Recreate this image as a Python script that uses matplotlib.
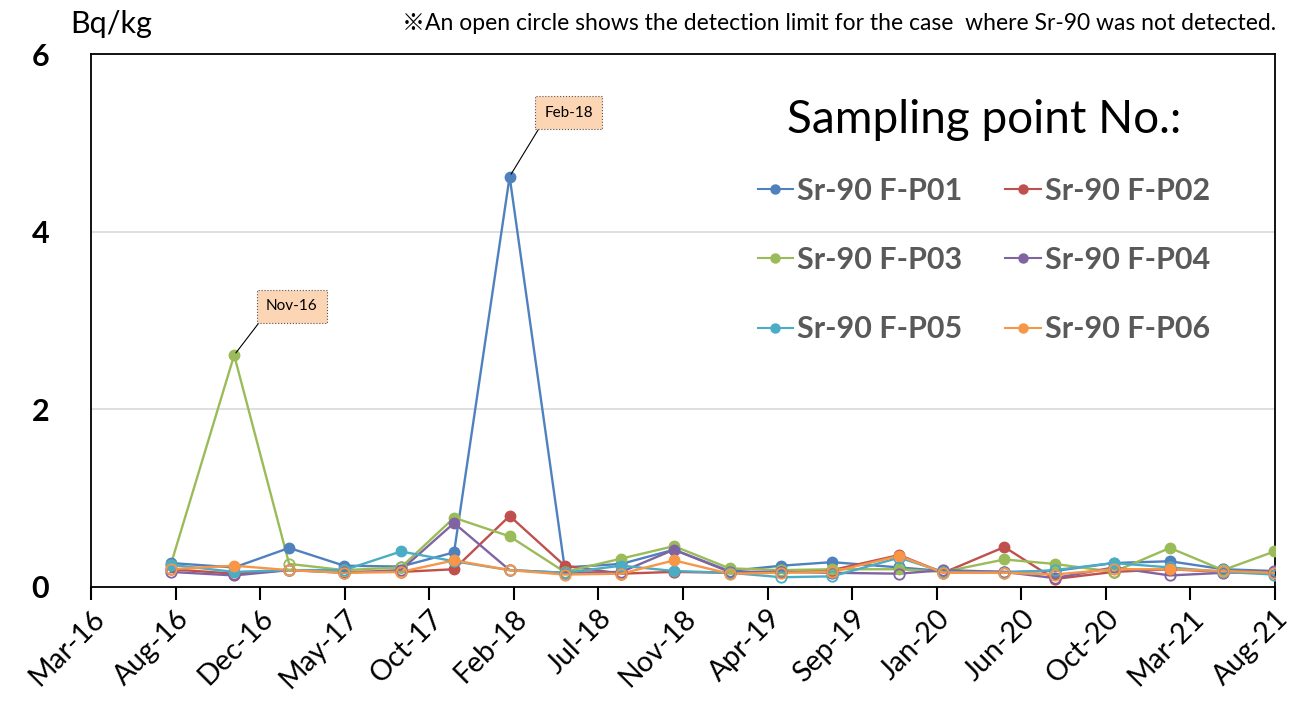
import datetime as dt
import matplotlib
matplotlib.use("Agg")
import matplotlib.pyplot as plt
import matplotlib.dates as mdates
from matplotlib.lines import Line2D

plt.rcParams["font.family"] = ["Lato", "DejaVu Sans"]

# sampling dates (quarterly)
sample_dates = [
    "2016-08-01", "2016-11-14", "2017-02-13", "2017-05-15", "2017-08-17",
    "2017-11-13", "2018-02-13", "2018-05-15", "2018-08-17", "2018-11-12",
    "2019-02-12", "2019-05-09", "2019-08-01", "2019-11-20", "2020-02-01",
    "2020-05-12", "2020-08-03", "2020-11-09", "2021-02-10", "2021-05-09",
    "2021-08-02",
]

series_names = ["Sr-90 F-P01", "Sr-90 F-P02", "Sr-90 F-P03",
                "Sr-90 F-P04", "Sr-90 F-P05", "Sr-90 F-P06"]
series_colors = ["#4F81BD", "#C0504D", "#9BBB59", "#8064A2", "#4BACC6", "#F79646"]

# Bq/kg
p01 = [0.27, 0.22, 0.44, 0.24, 0.23, 0.39, 4.62, 0.22, 0.26, 0.42, 0.18,
       0.24, 0.28, 0.22, 0.18, 0.17, 0.18, 0.27, 0.29, 0.20, 0.18]
p02 = [0.20, 0.15, 0.19, 0.17, 0.17, 0.20, 0.80, 0.24, 0.15, 0.17, 0.16,
       0.17, 0.19, 0.36, 0.16, 0.45, 0.09, 0.17, 0.20, 0.17, 0.17]
p03 = [0.25, 2.61, 0.26, 0.19, 0.22, 0.78, 0.57, 0.17, 0.32, 0.46, 0.21,
       0.19, 0.20, 0.20, 0.17, 0.31, 0.26, 0.17, 0.44, 0.19, 0.40]
p04 = [0.17, 0.13, 0.19, 0.16, 0.19, 0.72, 0.19, 0.16, 0.17, 0.42, 0.17,
       0.17, 0.16, 0.15, 0.19, 0.17, 0.10, 0.22, 0.13, 0.16, 0.17]
p05 = [0.25, 0.17, 0.19, 0.19, 0.40, 0.29, 0.19, 0.16, 0.24, 0.18, 0.16,
       0.11, 0.12, 0.33, 0.17, 0.16, 0.19, 0.27, 0.22, 0.17, 0.14]
p06 = [0.20, 0.24, 0.19, 0.16, 0.17, 0.30, 0.19, 0.14, 0.15, 0.30, 0.15,
       0.16, 0.17, 0.35, 0.16, 0.16, 0.14, 0.20, 0.20, 0.18, 0.16]

# 1 = detected, 0 = below detection limit (open circle)
det01 = [1, 1, 1, 1, 0, 1, 1, 1, 0, 1, 0, 1, 1, 0, 0, 0, 0, 1, 1, 0, 0]
det02 = [0, 0, 0, 0, 0, 1, 1, 1, 0, 0, 0, 0, 0, 1, 0, 1, 0, 0, 0, 0, 0]
det03 = [1, 1, 0, 0, 0, 1, 1, 0, 1, 1, 1, 0, 1, 1, 0, 1, 1, 0, 1, 0, 1]
det04 = [0, 0, 0, 0, 0, 1, 0, 0, 0, 1, 0, 0, 0, 0, 0, 0, 0, 0, 0, 0, 0]
det05 = [1, 1, 0, 0, 1, 0, 0, 0, 1, 1, 0, 0, 0, 0, 0, 0, 0, 1, 0, 0, 0]
det06 = [0, 1, 0, 0, 0, 1, 0, 0, 0, 1, 0, 0, 0, 1, 0, 0, 0, 0, 1, 0, 0]

series_values = [p01, p02, p03, p04, p05, p06]
series_detected = [det01, det02, det03, det04, det05, det06]

# callouts: (series index, point index, label, text offset in points)
callouts = [(2, 1, "Nov-16", (23, 30)), (0, 6, "Feb-18", (25, 41))]

axis_start = dt.date(2016, 3, 22)
tick_step = 140
n_ticks = 15

dates = [dt.datetime.strptime(d, "%Y-%m-%d").date() for d in sample_dates]

fig = plt.figure(figsize=(12.92, 7.08), dpi=100)
ax = fig.add_axes([91 / 1292, 1 - 587 / 708, 1184 / 1292, 533 / 708])

for vals, det, col in zip(series_values, series_detected, series_colors):
    ax.plot(dates, vals, color=col, linewidth=1.7, zorder=3)
    fx = [d for d, f in zip(dates, det) if f]
    fy = [v for v, f in zip(vals, det) if f]
    ox = [d for d, f in zip(dates, det) if not f]
    oy = [v for v, f in zip(vals, det) if not f]
    ax.plot(fx, fy, "o", color=col, markersize=7.5, zorder=4)
    ax.plot(ox, oy, "o", markerfacecolor="none", markeredgecolor=col,
            markeredgewidth=1.3, markersize=7.5, zorder=4)

for si, pi, txt, off in callouts:
    ax.annotate(txt, (dates[pi], series_values[si][pi]), xytext=off,
                textcoords="offset points", fontsize=11, ha="left", va="bottom",
                bbox=dict(boxstyle="square,pad=0.6", fc="#FCD5B4", ec="#555555",
                          ls=":", lw=0.8),
                arrowprops=dict(arrowstyle="-", color="black", lw=0.8,
                                relpos=(0, 0), shrinkA=0, shrinkB=2),
                zorder=6)

ax.set_ylim(0, 6)
ax.set_yticks([0, 2, 4, 6])
ax.set_yticklabels(["0", "2", "4", "6"], fontsize=22, fontweight="bold")
ax.tick_params(axis="y", length=0, pad=30)
ax.grid(axis="y", color="#D9D9D9", linewidth=1.2)
ax.set_axisbelow(True)

ticks = [axis_start + dt.timedelta(days=tick_step * i) for i in range(n_ticks)]
ax.set_xlim(ticks[0], ticks[-1])
ax.set_xticks(ticks)
ax.xaxis.set_major_formatter(mdates.DateFormatter("%b-%y"))
ax.tick_params(axis="x", direction="out", length=9, width=1.5, labelsize=20.5, pad=4)
for lbl in ax.get_xticklabels():
    lbl.set_rotation(45)
    lbl.set_ha("right")
    lbl.set_rotation_mode("anchor")

for sp in ax.spines.values():
    sp.set_color("black")
    sp.set_linewidth(1.3)

# legend filled row by row: matplotlib fills columns first, so reorder
order = [0, 2, 4, 1, 3, 5]
handles = [Line2D([], [], color=series_colors[i], marker="o", markersize=6.5,
                  linewidth=1.5) for i in order]
labels = [series_names[i] for i in order]
leg = ax.legend(handles, labels, ncol=2, frameon=False,
                title="Sampling point No.:", title_fontsize=33,
                prop=dict(size=22, weight="bold"), handlelength=1.15,
                handletextpad=0.15, columnspacing=1.4, labelspacing=1.35,
                loc="center", bbox_to_anchor=(984 / 1292, 1 - 221 / 708),
                bbox_transform=fig.transFigure)
for t in leg.get_texts():
    t.set_color("#595959")
leg._legend_box.sep = 26

fig.text(70 / 1292, 1 - 24 / 708, "Bq/kg", fontsize=22, va="center", ha="left")
fig.text(1276 / 1292, 1 - 24 / 708,
         "\u203bAn open circle shows the detection limit for the case  where Sr-90 was not detected.",
         fontsize=16.5, va="center", ha="right",
         family=["Lato", "Noto Sans CJK JP", "DejaVu Sans"])

fig.savefig("out.png", dpi=100)
